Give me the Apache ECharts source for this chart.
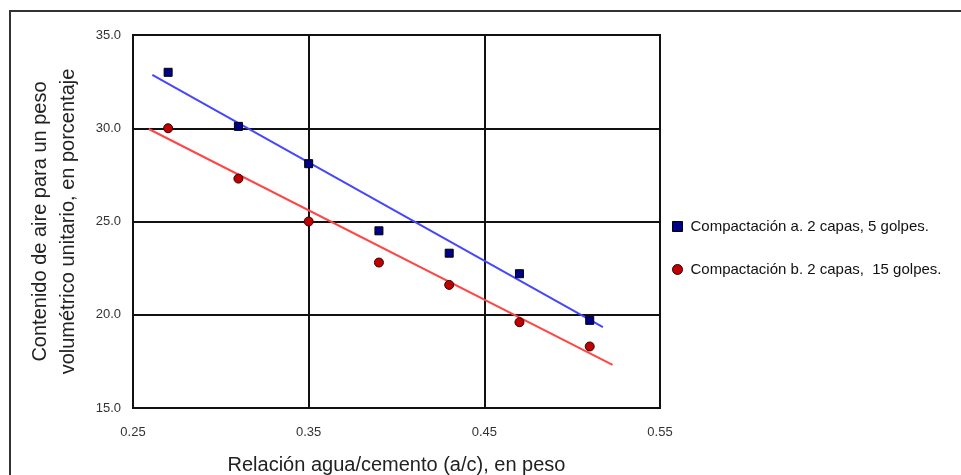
<!DOCTYPE html>
<html>
<head>
<meta charset="utf-8">
<script src="https://cdn.jsdelivr.net/npm/echarts@6/dist/echarts.min.js"></script>
<style>html,body{margin:0;padding:0;background:#fff;}#c{width:961px;height:475px;}</style>
</head>
<body>
<div id="c"></div>
<script>
// Data
const xValues = [0.27, 0.31, 0.35, 0.39, 0.43, 0.47, 0.51];
const seriesA = [33.0, 30.1, 28.1, 24.5, 23.3, 22.2, 19.7]; // Compactación a.
const seriesB = [30.0, 27.3, 25.0, 22.8, 21.6, 19.6, 18.3]; // Compactación b.
const trendAX = [0.261, 0.5175];
const trendAY = [32.86, 19.34];
const trendBX = [0.259, 0.523];
const trendBY = [29.96, 17.31];
const nameA = 'Compactación a. 2 capas, 5 golpes.';
const nameB = 'Compactación b. 2 capas,  15 golpes.';
const xTitle = 'Relación agua/cemento (a/c), en peso';
const yTitle = 'Contenido de aire para un peso\nvolumétrico unitario, en porcentaje';

const pairs = (xs, ys) => xs.map((x, i) => [x, ys[i]]);
const font = 'Liberation Sans, Arial, sans-serif';

const chart = echarts.init(document.getElementById('c'));
chart.setOption({
  animation: false,
  backgroundColor: '#fff',
  graphic: [{
    type: 'rect', shape: {x: 10, y: 11, width: 1000, height: 600},
    style: {fill: 'none', stroke: '#333', lineWidth: 2}, silent: true, z: -1
  }],
  grid: {left: 133, right: 301, top: 35, bottom: 67, show: true, borderColor: '#111', borderWidth: 2,
         backgroundColor: 'transparent', containLabel: false, outerBoundsMode: 'none'},
  legend: {
    orient: 'vertical', left: 667, top: 214, itemGap: 28, itemWidth: 10, itemHeight: 10,
    textStyle: {fontFamily: font, fontSize: 15, color: '#111', padding: [0, 0, 0, 3]},
    data: [
      {name: nameA, icon: 'rect', itemStyle: {color: '#000088', borderColor: '#000', borderWidth: 1, opacity: 1}},
      {name: nameB, icon: 'circle', itemStyle: {color: '#c00000', borderColor: '#300', borderWidth: 1, opacity: 1}}
    ]
  },
  xAxis: {
    type: 'value', min: 0.25, max: 0.55, interval: 0.1,
    name: xTitle, nameLocation: 'middle', nameGap: 47,
    nameTextStyle: {fontFamily: font, fontSize: 20, color: '#222'},
    axisLine: {show: true, lineStyle: {color: '#111', width: 2}},
    axisTick: {show: false},
    axisLabel: {fontFamily: font, fontSize: 13, color: '#333', margin: 18, formatter: v => v.toFixed(2)},
    splitLine: {show: true, lineStyle: {color: '#111', width: 2}}
  },
  yAxis: {
    type: 'value', min: 15, max: 35, interval: 5,
    name: yTitle, nameLocation: 'middle', nameRotate: 90, nameGap: 51,
    nameTextStyle: {fontFamily: font, fontSize: 20, color: '#222', lineHeight: 28},
    axisLine: {show: true, lineStyle: {color: '#111', width: 2}},
    axisTick: {show: false},
    axisLabel: {fontFamily: font, fontSize: 13, color: '#333', margin: 12, formatter: v => v.toFixed(1)},
    splitLine: {show: true, lineStyle: {color: '#111', width: 2}}
  },
  series: [
    {name: 'trendA', type: 'line', data: pairs(trendAX, trendAY), symbol: 'none', lineStyle: {color: '#4646ff', width: 2}, z: 2},
    {name: 'trendB', type: 'line', data: pairs(trendBX, trendBY), symbol: 'none', lineStyle: {color: '#ff4646', width: 2}, z: 2},
    {name: nameA, type: 'scatter', data: pairs(xValues, seriesA), symbol: 'rect', symbolSize: 8,
     itemStyle: {color: '#000088', borderColor: '#000', borderWidth: 1, opacity: 1}, z: 3},
    {name: nameB, type: 'scatter', data: pairs(xValues, seriesB), symbol: 'circle', symbolSize: 9,
     itemStyle: {color: '#c00000', borderColor: '#300', borderWidth: 1, opacity: 1}, z: 3}
  ]
});
</script>
</body>
</html>
